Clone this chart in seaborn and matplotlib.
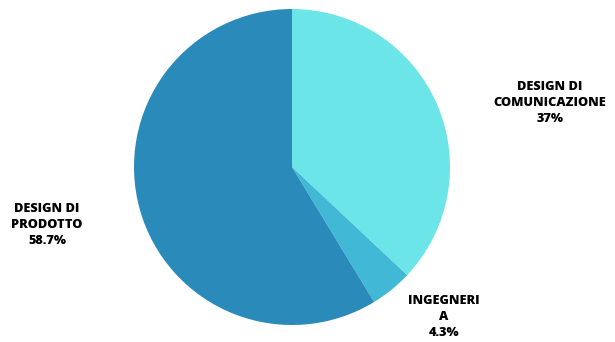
import matplotlib
matplotlib.use("Agg")
import matplotlib.pyplot as plt
import seaborn as sns

# data
categories = ["DESIGN DI\nCOMUNICAZIONE", "INGEGNERI\nA", "DESIGN DI\nPRODOTTO"]
values = [37.0, 4.3, 58.7]
value_labels = ["37%", "4.3%", "58.7%"]
colors = ["#6ce5e8", "#41b8d5", "#2a8bba"]

sns.set_theme(style="white")
plt.rcParams["font.family"] = ["Open Sans", "DejaVu Sans"]

W, H = 615, 342
fig = plt.figure(figsize=(W / 100, H / 100), dpi=100)
# pie area in pixels: x 134..450, y 9..325
ax = fig.add_axes([134 / W, (H - 325) / H, 316 / W, 316 / H])
ax.pie(values, colors=colors, startangle=90, counterclock=False,
       wedgeprops=dict(linewidth=0))
ax.set_xlim(-1, 1)
ax.set_ylim(-1, 1)
ax.set_aspect("equal")
ax.axis("off")

# label centres in pixels
label_pos = [(550, 103), (444, 317), (47, 225)]
for cat, vl, (px, py) in zip(categories, value_labels, label_pos):
    fig.text(px / W, 1 - py / H, cat + "\n" + vl, ha="center", va="center",
             fontsize=9.2, fontweight="heavy", color="#000000", linespacing=1.5)

fig.savefig("out.png", dpi=100)
